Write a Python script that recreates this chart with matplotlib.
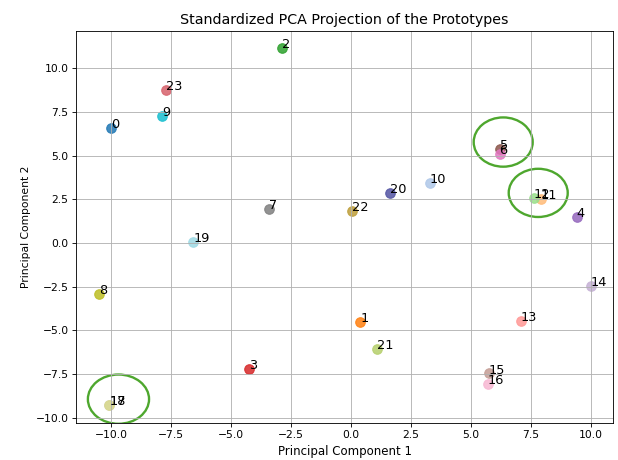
import numpy as np
import matplotlib.pyplot as plt
from matplotlib.patches import Ellipse
from matplotlib.ticker import MultipleLocator

# projected prototypes
pc1 = [-10.0, 0.40, -2.86, -4.24, 9.41, 6.22, 6.20, -3.40, -10.5, -7.87,
       3.28, 7.91, 7.62, 7.08, 10.0, 5.74, 5.70, -10.08, -10.08, -6.57,
       1.61, 1.10, 0.06, -7.70]
pc2 = [6.61, -4.54, 11.15, -7.24, 1.49, 5.40, 5.10, 1.95, -2.93, 7.30,
       3.45, 2.53, 2.59, -4.48, -2.47, -7.47, -8.05, -9.25, -9.25, 0.06,
       2.87, -6.09, 1.84, 8.74]
labels = [str(i) for i in range(24)]

# highlighted groups: centre x, centre y, width, height
circles = [(6.35, 5.78, 2.46, 2.82),
           (7.81, 2.87, 2.46, 2.76),
           (-9.69, -8.94, 2.55, 2.82)]

colors = list(plt.cm.tab20.colors[0::2]) + list(plt.cm.tab20.colors[1::2]) \
    + [plt.cm.tab20b.colors[i] for i in (1, 6, 9, 14)]

fig, ax = plt.subplots(figsize=(8.0, 5.955), dpi=77.25)
fig.subplots_adjust(left=0.123, right=0.992, top=0.933, bottom=0.081)

for i in range(len(pc1)):
    ax.scatter(pc1[i], pc2[i], color=colors[i], s=80, alpha=0.85)
    ax.annotate(labels[i], (pc1[i], pc2[i]), fontsize=12)

for cx, cy, w, h in circles:
    ax.add_patch(Ellipse((cx, cy), w, h, fill=False, edgecolor='#4ea72e', lw=2.2))

ax.set_xlim(-11.46, 10.93)
ax.set_ylim(-10.29, 12.15)
ax.xaxis.set_major_locator(MultipleLocator(2.5))
ax.yaxis.set_major_locator(MultipleLocator(2.5))
ax.set_title('Standardized PCA Projection of the Prototypes', fontsize=13.3)
ax.set_xlabel('Principal Component 1', fontsize=11)
ax.set_ylabel('Principal Component 2')
ax.grid(True)

plt.savefig('out.png', dpi=77.25)
